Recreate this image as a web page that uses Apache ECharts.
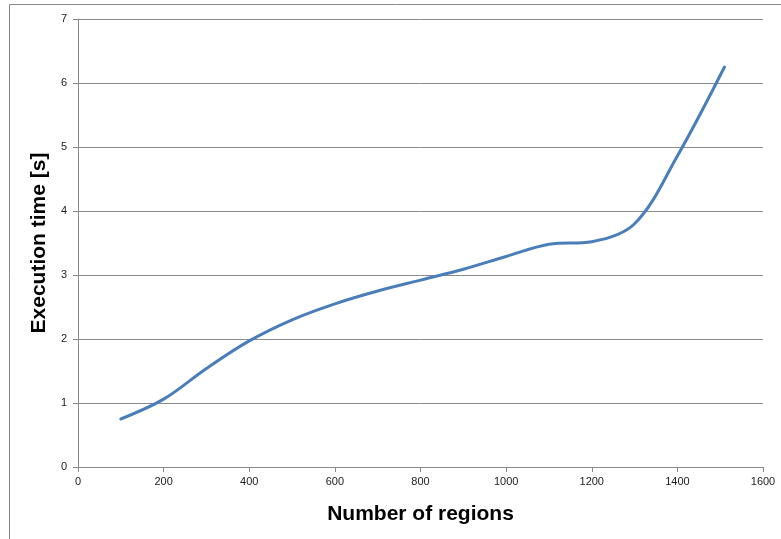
<!DOCTYPE html>
<html>
<head>
<meta charset="utf-8">
<script src="https://cdn.jsdelivr.net/npm/echarts@6/dist/echarts.min.js"></script>
<style>
  html, body { margin: 0; padding: 0; background: #fff; }
  #chart { width: 781px; height: 539px; }
</style>
</head>
<body>
<div id="chart"></div>
<script>
// Execution time measured against the number of regions
const regions = [100, 200, 300, 400, 500, 600, 700, 800, 900, 1000, 1100, 1200, 1300, 1400, 1510];
const execTime = [0.75, 1.06, 1.54, 1.97, 2.3, 2.55, 2.75, 2.92, 3.09, 3.29, 3.48, 3.52, 3.8, 4.86, 6.25];

const xTicks = { min: 0, max: 1600, interval: 200 };
const yTicks = { min: 0, max: 7, interval: 1 };

const points = regions.map((r, i) => [r, execTime[i]]);

const chart = echarts.init(document.getElementById('chart'), null, { renderer: 'canvas' });
const labelFont = 'Liberation Sans, Arial, sans-serif';

chart.setOption({
  animation: false,
  backgroundColor: '#ffffff',
  graphic: [{
    type: 'rect',
    shape: { x: 9.5, y: 4.5, width: 820, height: 600 },
    style: { fill: 'none', stroke: '#8a8a8a', lineWidth: 1 },
    silent: true
  }],
  grid: { left: 78, right: 18, top: 19, bottom: 72, containLabel: false },
  xAxis: {
    type: 'value',
    min: xTicks.min, max: xTicks.max, interval: xTicks.interval,
    name: 'Number of regions',
    nameLocation: 'middle',
    nameGap: 37,
    nameTextStyle: { fontFamily: labelFont, fontWeight: 'bold', fontSize: 21, color: '#000' },
    axisLine: { show: true, lineStyle: { color: '#8a8a8a', width: 1 } },
    axisTick: { show: true, length: 5, lineStyle: { color: '#8a8a8a' } },
    axisLabel: { fontFamily: labelFont, fontSize: 11, color: '#222', margin: 9, formatter: v => String(v) },
    splitLine: { show: false }
  },
  yAxis: {
    type: 'value',
    min: yTicks.min, max: yTicks.max, interval: yTicks.interval,
    name: 'Execution time [s]',
    nameLocation: 'middle',
    nameGap: 21,
    nameRotate: 90,
    nameTextStyle: { fontFamily: labelFont, fontWeight: 'bold', fontSize: 21, color: '#000' },
    axisLine: { show: true, lineStyle: { color: '#8a8a8a', width: 1 } },
    axisTick: { show: true, length: 5, lineStyle: { color: '#8a8a8a' } },
    axisLabel: { fontFamily: labelFont, fontSize: 11, color: '#222', margin: 11, formatter: v => String(v) },
    splitLine: { show: true, lineStyle: { color: '#8a8a8a', width: 1 } }
  },
  series: [{
    type: 'line',
    data: points,
    smooth: 0.35,
    showSymbol: false,
    lineStyle: { color: '#4a7ebb', width: 3, cap: 'round' },
    itemStyle: { color: '#4a7ebb' }
  }]
});
</script>
</body>
</html>
